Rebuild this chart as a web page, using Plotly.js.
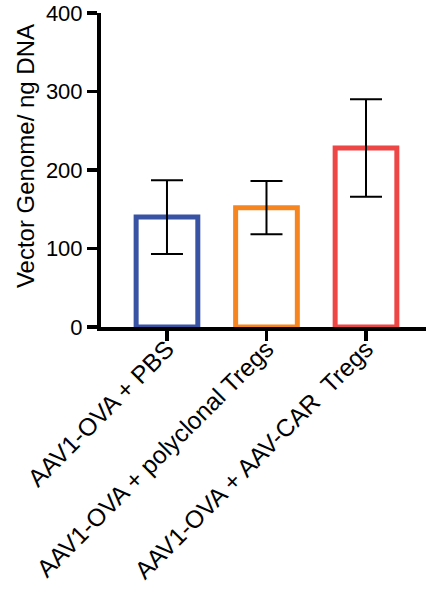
<!DOCTYPE html>
<html>
<head>
<meta charset="utf-8">
<script src="https://cdn.plot.ly/plotly-3.0.1.min.js"></script>
<style>html,body{margin:0;padding:0;background:#fff;}#chart{width:426px;height:594px;}</style>
</head>
<body>
<div id="chart"></div>
<script>
var categories = ["AAV1-OVA + PBS", "AAV1-OVA + polyclonal Tregs", "AAV1-OVA + AAV-CAR\u00A0 Tregs"];
var means = [140, 152, 228];
var errors = [47, 34, 62];
var barColors = ["#3953a4", "#f7851f", "#ee4545"];
var yTickVals = [0, 100, 200, 300, 400];
var yTitle = "Vector Genome/ ng DNA";

var trace = {
  type: "bar",
  x: [0, 1, 2],
  y: means,
  width: 0.62,
  marker: { color: "rgba(255,255,255,0)", line: { color: barColors, width: 5 } },
  error_y: { type: "data", array: errors, visible: true, color: "#000", thickness: 2, width: 16 },
  hoverinfo: "none"
};

var layout = {
  width: 426, height: 594,
  margin: { l: 101, r: 0, t: 13, b: 267, pad: 0 },
  paper_bgcolor: "#fff", plot_bgcolor: "#fff",
  showlegend: false,
  font: { family: "Liberation Sans, Arial, sans-serif", color: "#000" },
  xaxis: {
    range: [-0.663, 2.603],
    tickmode: "array", tickvals: [0, 1, 2], ticktext: categories,
    tickangle: -45,
    ticks: "outside", ticklen: 10, tickwidth: 3.5, tickcolor: "#000",
    ticklabelstandoff: -16,
    showline: true, linecolor: "#000", linewidth: 4,
    showgrid: false, zeroline: false,
    tickfont: { size: 24.5, family: "Liberation Sans, Arial, sans-serif", color: "#000" }
  },
  yaxis: {
    range: [0, 400],
    tickmode: "array", tickvals: yTickVals,
    ticks: "outside", ticklen: 10, tickwidth: 3.5, tickcolor: "#000",
    showline: true, linecolor: "#000", linewidth: 4,
    showgrid: false, zeroline: false,
    tickfont: { size: 22, family: "Liberation Sans, Arial, sans-serif", color: "#000" }
  },
  annotations: [{
    text: yTitle, textangle: -90,
    xref: "paper", yref: "paper",
    x: -0.23, y: 0.545, xanchor: "center", yanchor: "middle",
    showarrow: false,
    font: { size: 24, family: "Liberation Sans, Arial, sans-serif", color: "#000" }
  }]
};

Plotly.newPlot("chart", [trace], layout, { staticPlot: true, displayModeBar: false });
</script>
</body>
</html>
